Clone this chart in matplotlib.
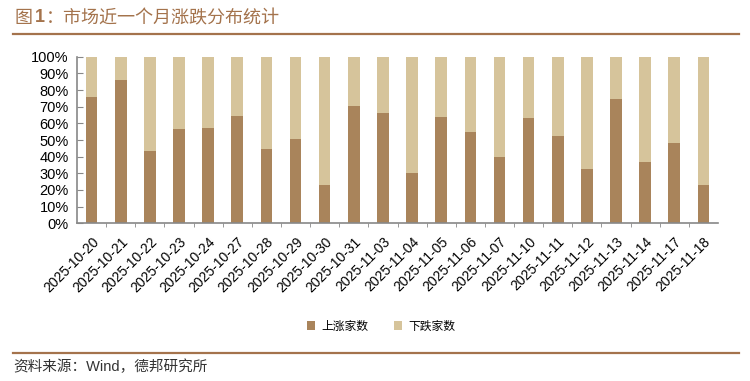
import matplotlib
matplotlib.use("Agg")
import matplotlib.pyplot as plt
from matplotlib.lines import Line2D
import numpy as np

plt.rcParams['font.family'] = ['Liberation Sans', 'Noto Sans CJK SC', 'DejaVu Sans']

dates = ['2025-10-20', '2025-10-21', '2025-10-22', '2025-10-23', '2025-10-24',
         '2025-10-27', '2025-10-28', '2025-10-29', '2025-10-30', '2025-10-31',
         '2025-11-03', '2025-11-04', '2025-11-05', '2025-11-06', '2025-11-07',
         '2025-11-10', '2025-11-11', '2025-11-12', '2025-11-13', '2025-11-14',
         '2025-11-17', '2025-11-18']
# share of advancing stocks (%)
up_pct = [76.0, 86.0, 43.4, 56.4, 57.0, 64.4, 44.4, 50.4, 22.8, 70.4,
          66.0, 30.2, 63.8, 54.6, 39.6, 63.2, 52.4, 32.4, 74.6, 36.8,
          48.2, 23.2]
down_pct = [100 - v for v in up_pct]

c_up = '#A9845B'
c_down = '#D6C49B'
c_brand = '#A4734C'

fig = plt.figure(figsize=(7.5, 3.81), dpi=100)
ax = fig.add_axes([0.1027, 0.414, 0.8546, 0.437])

x = np.arange(len(dates))
ax.bar(x, up_pct, width=0.4, color=c_up, label='上涨家数')
ax.bar(x, down_pct, width=0.4, bottom=up_pct, color=c_down, label='下跌家数')

ax.set_xlim(-0.5, len(dates) - 0.5)
ax.set_ylim(0, 100)
ax.set_yticks(np.arange(0, 101, 10))
ax.set_yticklabels([f'{v}%' for v in range(0, 101, 10)], fontsize=10.5)
ax.tick_params(axis='y', direction='in', length=4, color='#888888', pad=6)

ax.set_xticks(x)
ax.set_xticklabels(dates, rotation=45, ha='right', va='top',
                   rotation_mode='anchor', fontsize=10)
ax.tick_params(axis='x', length=0, pad=8)
ax.set_xticks(np.arange(0.5, len(dates) - 0.5, 1), minor=True)
ax.tick_params(axis='x', which='minor', direction='out', length=3, color='#888888')

for s in ['top', 'right']:
    ax.spines[s].set_visible(False)
for s in ['left', 'bottom']:
    ax.spines[s].set_color('#888888')
    ax.spines[s].set_linewidth(1.2)

ax.legend(loc='center', bbox_to_anchor=(381 / 750, 1 - 326 / 381),
          bbox_transform=fig.transFigure, ncol=2, frameon=False,
          handlelength=0.7, handleheight=0.7, handletextpad=0.5,
          columnspacing=2.2, prop={'family': ['Noto Sans CJK SC'], 'size': 8.5})

fig.text(15 / 750, 1 - 18 / 381, '图', color=c_brand,
         fontsize=13, va='center', ha='left', family=['Noto Sans CJK SC'])
fig.text(35 / 750, 1 - 18 / 381, '1', color=c_brand, fontweight='bold',
         fontsize=13, va='center', ha='left', family=['Liberation Sans'])
fig.text(46 / 750, 1 - 18 / 381, '：市场近一个月涨跌分布统计', color=c_brand,
         fontsize=13, va='center', ha='left', family=['Noto Sans CJK SC'])
fig.add_artist(Line2D([13 / 750, 739 / 750], [1 - 34 / 381, 1 - 34 / 381],
                      transform=fig.transFigure, color=c_brand, lw=1.6))
fig.add_artist(Line2D([13 / 750, 739 / 750], [1 - 353 / 381, 1 - 353 / 381],
                      transform=fig.transFigure, color=c_brand, lw=1.6))
fig.text(13 / 750, 1 - 367 / 381, '资料来源：Wind，德邦研究所', color='#333333',
         fontsize=10.5, va='center', ha='left',
         family=['Liberation Sans', 'Noto Sans CJK SC'])

fig.savefig('out.png', dpi=100)
